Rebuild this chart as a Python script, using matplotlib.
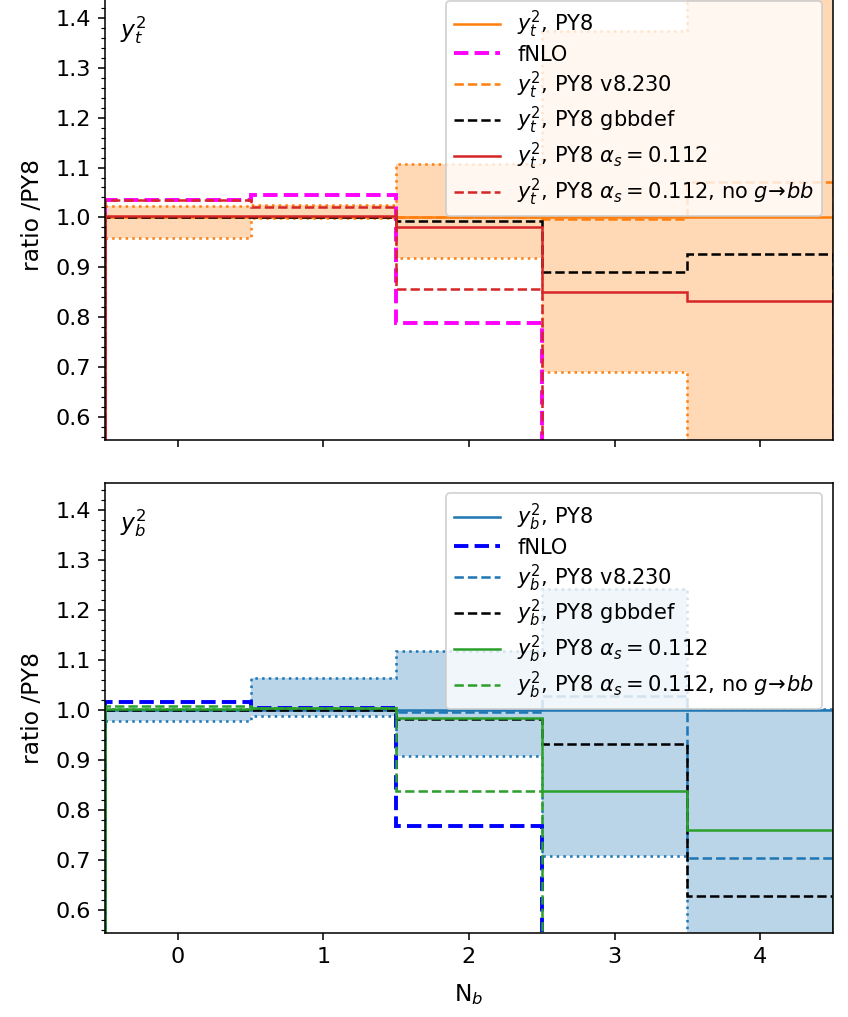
import numpy as np
import matplotlib.pyplot as plt
from matplotlib.ticker import MultipleLocator

# bin edges in N_b
edges = np.arange(-0.5, 5.0, 1.0)
xticks = [0, 1, 2, 3, 4]

# top panel: y_t^2, ratios to PY8
yt_band_lo = [0.958, 0.998, 0.918, 0.690, 0.30]
yt_band_hi = [1.023, 1.025, 1.108, 1.374, 1.70]
yt_py8 = [1.0, 1.0, 1.0, 1.0, 1.0]
yt_fnlo = [1.035, 1.045, 0.789, 0.0, 0.0]
yt_v8230 = [1.0, 1.0, 1.0, 0.997, 1.07]
yt_gbbdef = [1.0, 1.0, 0.992, 0.890, 0.926]
yt_as = [1.002, 1.002, 0.980, 0.851, 0.832]
yt_as_nogbb = [1.035, 1.020, 0.857, 0.0, 0.0]

# bottom panel: y_b^2, ratios to PY8
yb_band_lo = [0.978, 0.989, 0.909, 0.708, 0.30]
yb_band_hi = [1.003, 1.065, 1.119, 1.242, 1.003]
yb_py8 = [1.0, 1.0, 1.0, 1.0, 1.0]
yb_fnlo = [1.017, 1.004, 0.769, 0.0, 0.0]
yb_v8230 = [1.0, 1.0, 0.997, 1.028, 0.704]
yb_gbbdef = [1.0, 1.0, 0.982, 0.932, 0.628]
yb_as = [1.003, 1.005, 0.984, 0.838, 0.761]
yb_as_nogbb = [1.009, 1.005, 0.839, 0.0, 0.0]


def draw_panel(ax, tag, main_color, fnlo_color, var_color,
               lo, hi, py8, fnlo, v8230, gbbdef, a_s, a_s_nogbb):
    # scale uncertainty band
    ax.stairs(hi, edges, baseline=lo, fill=True, color=main_color, alpha=0.3, lw=0)
    ax.stairs(hi, edges, baseline=None, color=main_color, ls=":", lw=1.3)
    ax.stairs(lo, edges, baseline=None, color=main_color, ls=":", lw=1.3)

    lab = "$" + tag + "$"
    ax.stairs(py8, edges, baseline=0, color=main_color, lw=1.3, label=lab + ", PY8")
    ax.stairs(fnlo, edges, baseline=0, color=fnlo_color, ls="--", lw=2.0, label="fNLO")
    ax.stairs(v8230, edges, baseline=0, color=main_color, ls="--", lw=1.3,
              label=lab + ", PY8 v8.230")
    ax.stairs(gbbdef, edges, baseline=0, color="black", ls="--", lw=1.3,
              label=lab + ", PY8 gbbdef")
    ax.stairs(a_s, edges, baseline=0, color=var_color, lw=1.3,
              label=lab + r", PY8 $\alpha_s = 0.112$")
    ax.stairs(a_s_nogbb, edges, baseline=0, color=var_color, ls="--", lw=1.3,
              label=lab + r", PY8 $\alpha_s = 0.112$, no $g\!\rightarrow\! bb$")

    ax.set_xlim(-0.5, 4.5)
    ax.set_ylim(0.555, 1.455)
    ax.set_xticks(xticks)
    ax.yaxis.set_major_locator(MultipleLocator(0.1))
    ax.yaxis.set_minor_locator(MultipleLocator(0.02))
    ax.tick_params(labelsize=11.5)
    ax.set_ylabel("ratio /PY8", fontsize=12, labelpad=6)
    ax.text(0.02, 0.945, lab, transform=ax.transAxes, ha="left", va="top", fontsize=12)
    ax.legend(loc="upper right", fontsize=10.8, labelspacing=0.22, handlelength=2.2)


fig = plt.figure(figsize=(848 / 140, 1017 / 140), dpi=140)
ax_top = fig.add_axes([0.1238, 0.5674, 0.8585, 0.4424])
ax_bot = fig.add_axes([0.1238, 0.0826, 0.8585, 0.4425])

draw_panel(ax_top, "y_t^2", "tab:orange", "magenta", "tab:red",
           yt_band_lo, yt_band_hi, yt_py8, yt_fnlo, yt_v8230, yt_gbbdef, yt_as, yt_as_nogbb)
draw_panel(ax_bot, "y_b^2", "tab:blue", "blue", "tab:green",
           yb_band_lo, yb_band_hi, yb_py8, yb_fnlo, yb_v8230, yb_gbbdef, yb_as, yb_as_nogbb)

ax_top.tick_params(axis="x", labelbottom=False)
ax_bot.set_xlabel("N$_b$", fontsize=12, labelpad=8)

fig.savefig("out.png", dpi=140)
